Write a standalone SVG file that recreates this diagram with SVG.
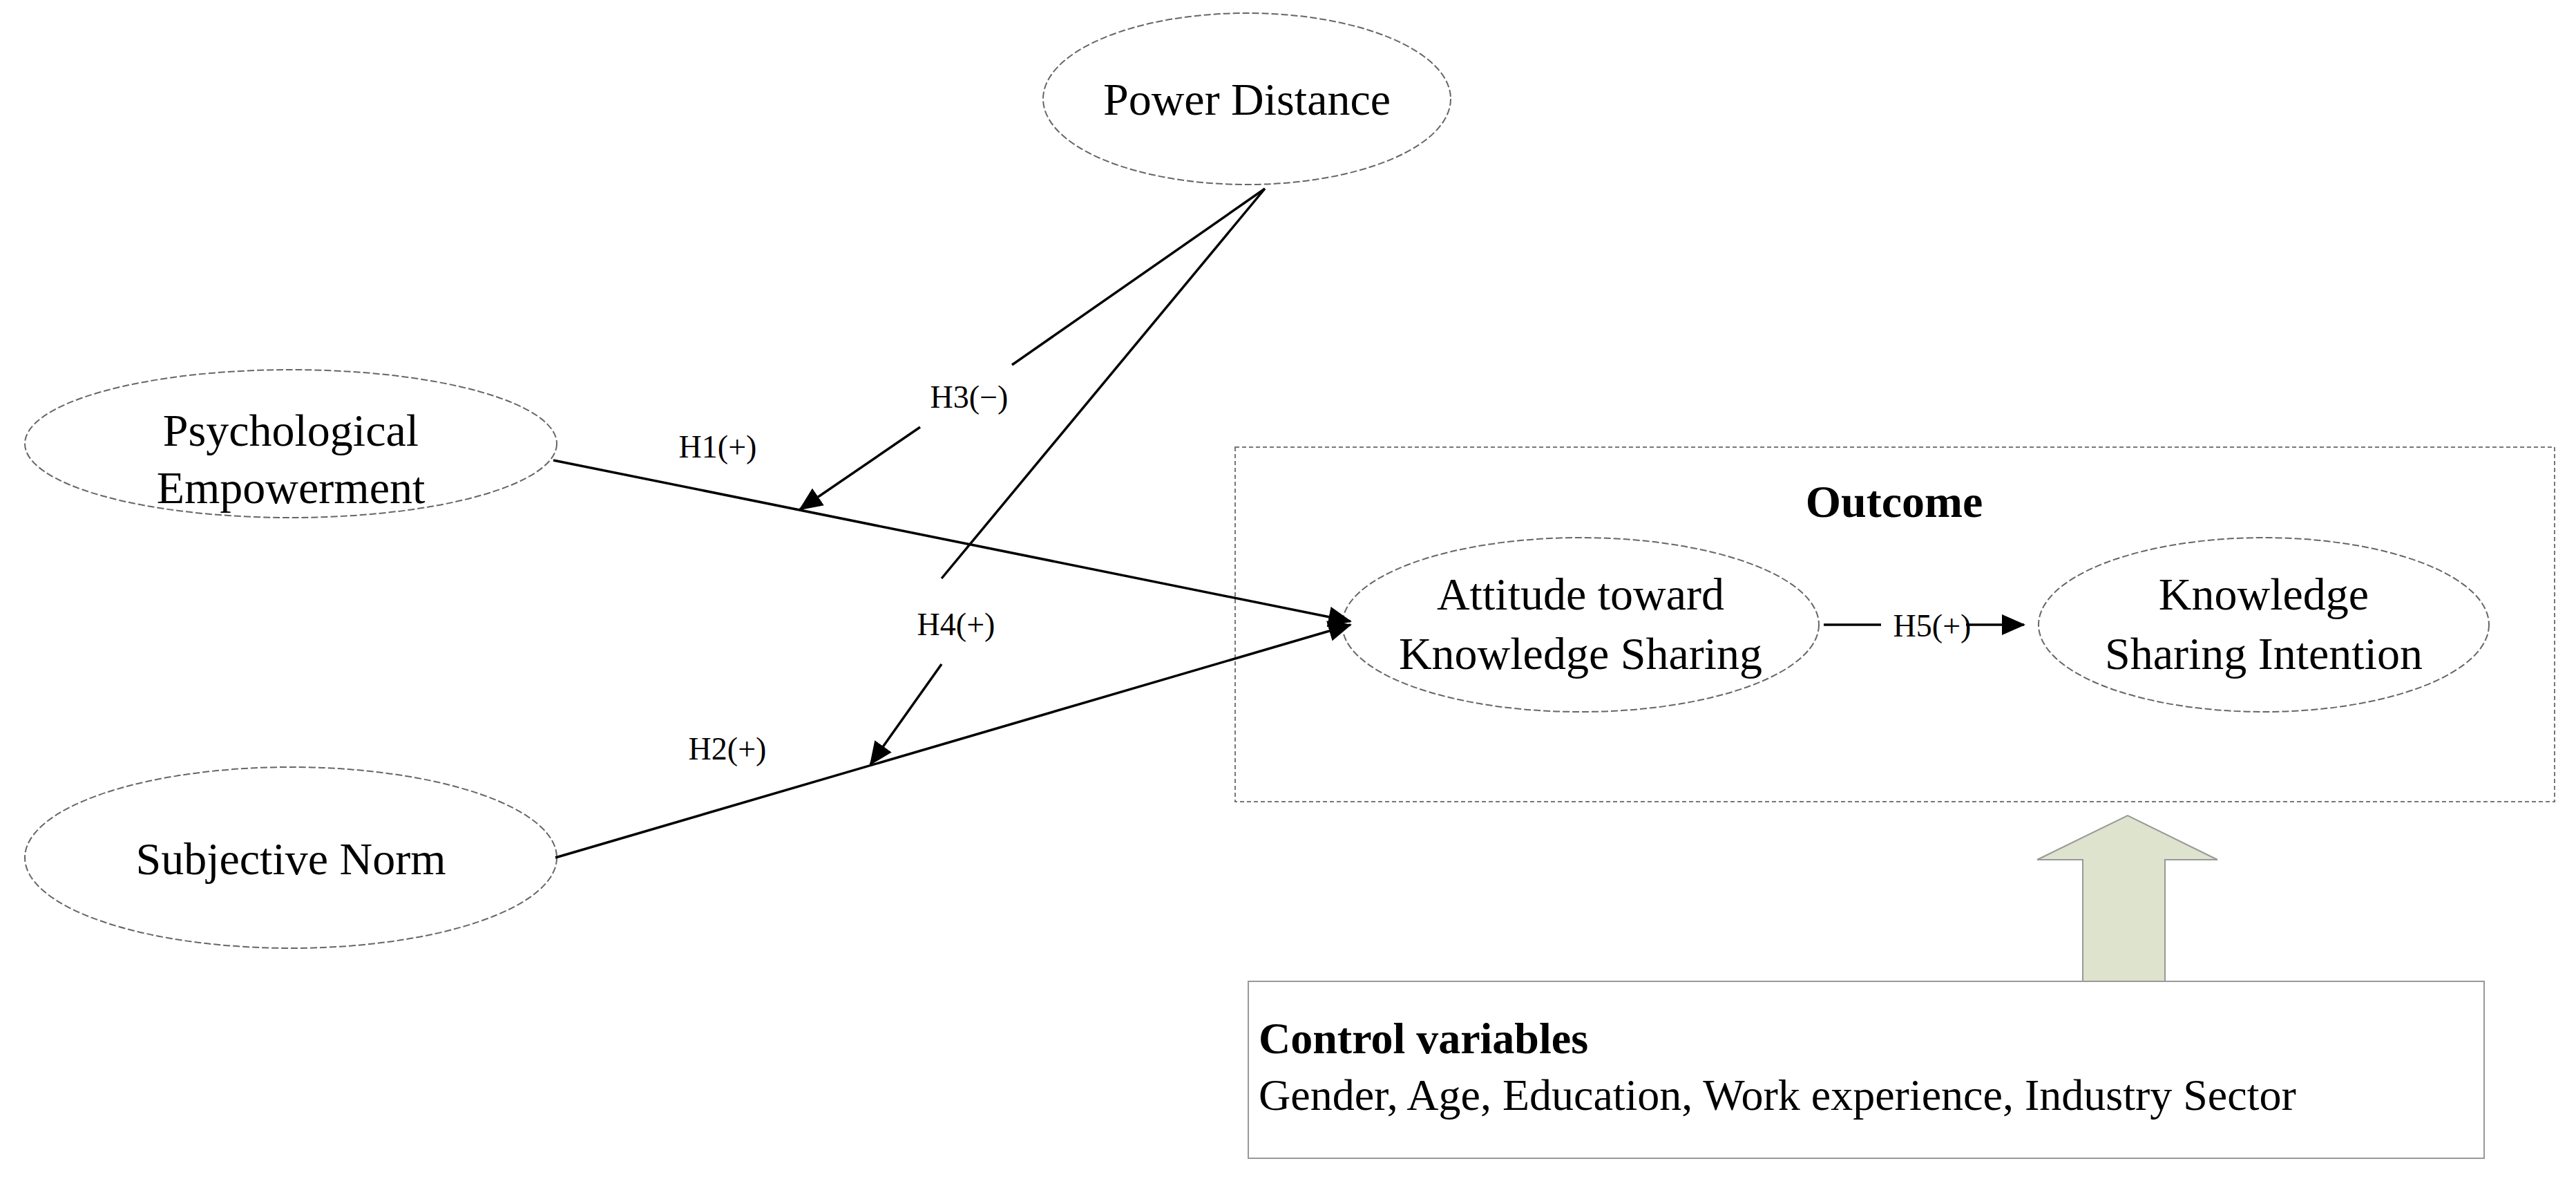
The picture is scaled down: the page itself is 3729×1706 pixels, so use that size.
<svg xmlns="http://www.w3.org/2000/svg" width="3729" height="1706" viewBox="0 0 3729 1706">
<style>
.n{fill:#fff;stroke:#666;stroke-width:2;stroke-dasharray:10 4}
.t{font-family:"Liberation Serif",serif;font-size:66px;fill:#000;text-anchor:middle}
.l{font-family:"Liberation Serif",serif;font-size:46px;fill:#000;text-anchor:middle}
.c{stroke:#000;stroke-width:3.5;fill:none}
</style>
<defs><marker id="a" markerWidth="10" markerHeight="10" refX="9" refY="5" orient="auto" markerUnits="userSpaceOnUse" viewBox="0 0 10 10"><path d="M0,0L10,5L0,10z" fill="#000"/></marker>
<marker id="b" markerWidth="34" markerHeight="30" refX="32" refY="15" orient="auto" markerUnits="userSpaceOnUse"><path d="M0,0L34,15L0,30z" fill="#000"/></marker></defs>
<g id="outcome"><rect x="1788" y="647" width="1910" height="513" fill="none" stroke="#777" stroke-width="2" stroke-dasharray="6 4"/><text x="2742" y="748" class="t" font-weight="bold">Outcome</text></g>
<g id="pd"><ellipse class="n" cx="1805" cy="143" rx="295" ry="124"/><text class="t" x="1805" y="166">Power Distance</text></g>
<g id="pe"><ellipse class="n" cx="421" cy="642" rx="385" ry="107"/><text class="t" x="421" y="645">Psychological</text><text class="t" x="421" y="728">Empowerment</text></g>
<g id="sn"><ellipse class="n" cx="421" cy="1241" rx="385" ry="131"/><text class="t" x="421" y="1265">Subjective Norm</text></g>
<g id="att"><ellipse class="n" cx="2288" cy="904" rx="345" ry="126"/><text class="t" x="2288" y="882">Attitude toward</text><text class="t" x="2288" y="968">Knowledge Sharing</text></g>
<g id="ksi"><ellipse class="n" cx="3277" cy="904" rx="326" ry="126"/><text class="t" x="3277" y="882">Knowledge</text><text class="t" x="3277" y="968">Sharing Intention</text></g>
<g id="connectors">
<line class="c" x1="801" y1="666" x2="1955" y2="899" marker-end="url(#b)"/>
<line class="c" x1="804" y1="1241" x2="1955" y2="904" marker-end="url(#b)"/>
<line class="c" stroke-width="2.5" x1="1831" y1="273" x2="1465" y2="528"/>
<line class="c" stroke-width="2.5" x1="1332" y1="618" x2="1158" y2="737" marker-end="url(#b)"/>
<line class="c" stroke-width="2.5" x1="1831" y1="273" x2="1363" y2="837"/>
<line class="c" stroke-width="2.5" x1="1363" y1="961" x2="1260" y2="1106" marker-end="url(#b)"/>
<line class="c" stroke-width="2.5" x1="2640" y1="904" x2="2723" y2="904"/>
<line class="c" stroke-width="2.5" x1="2846" y1="904" x2="2930" y2="904" marker-end="url(#b)"/>
<text class="l" x="1039" y="662">H1(+)</text>
<text class="l" x="1403" y="590">H3(−)</text>
<text class="l" x="1384" y="919">H4(+)</text>
<text class="l" x="1053" y="1099">H2(+)</text>
<text class="l" x="2797" y="921">H5(+)</text>
</g>
<g id="bigarrow"><path d="M3015,1420V1244H2949L3080,1180L3210,1244H3134V1420z" fill="#dde3cc" stroke="#999" stroke-width="2"/></g>
<g id="control"><rect x="1807" y="1420" width="1789" height="256" fill="#fff" stroke="#999" stroke-width="2"/>
<text x="1822" y="1524" font-family="Liberation Serif,serif" font-size="64" font-weight="bold">Control variables</text>
<text x="1822" y="1606" font-family="Liberation Serif,serif" font-size="64">Gender, Age, Education, Work experience, Industry Sector</text></g>
</svg>
